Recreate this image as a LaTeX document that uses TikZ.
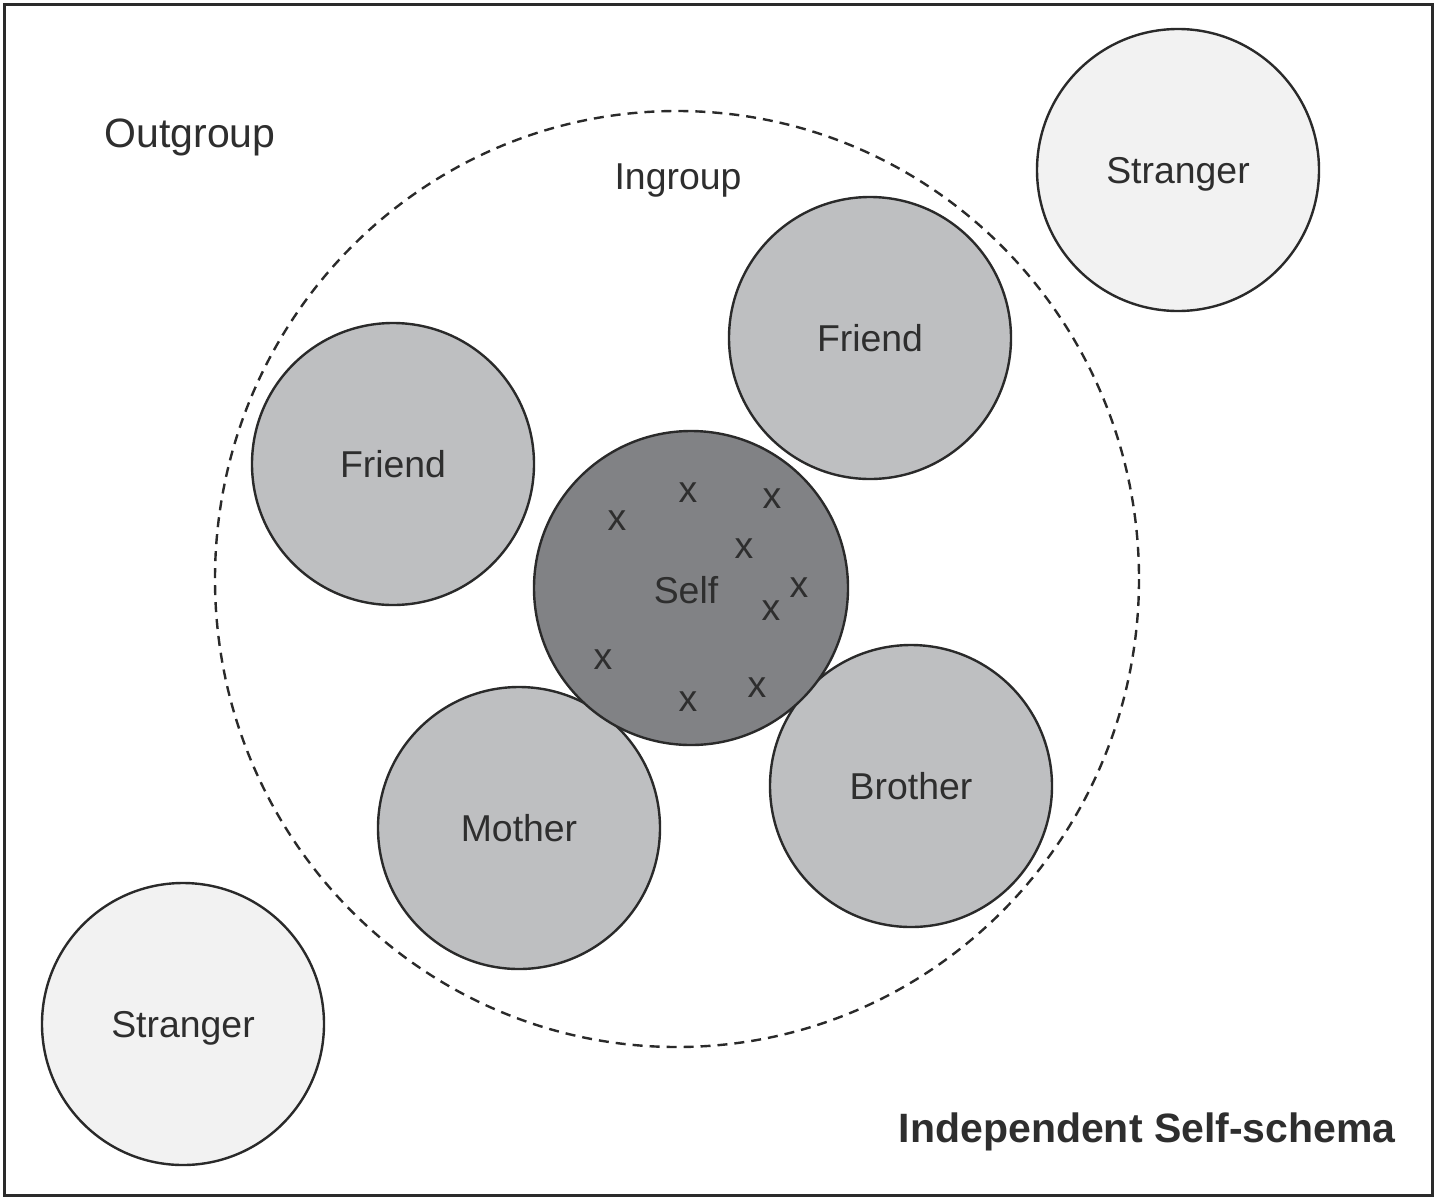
\documentclass[tikz,border=0pt]{standalone}
\usepackage{fontspec}
\setmainfont{Liberation Sans}
\begin{document}
\begin{tikzpicture}[x=0.5pt,y=-0.5pt,
  lbl/.style={text=txtc, font=\fontsize{20.5}{24}\selectfont, inner sep=0, text depth=0pt},
  slbl/.style={text=txtc, font=\fontsize{18.7}{22}\selectfont, inner sep=0, text depth=0pt},
  circ/.style={circle, draw=linec, line width=1.2pt, inner sep=0, text=txtc, text depth=0pt, font=\fontsize{18.7}{22}\selectfont},
  stranger/.style={circ, fill=strc, minimum size=141pt},
  member/.style={circ, fill=memc, minimum size=141pt},
  selfc/.style={circ, fill=selfcol, minimum size=157pt},
  xmark/.style={text=txtc, font=\fontsize{18.7}{22}\selectfont, inner sep=0}
]
\definecolor{txtc}{HTML}{2E2E2E}
\definecolor{linec}{HTML}{2A2A2A}
\definecolor{strc}{HTML}{F2F2F2}
\definecolor{memc}{HTML}{BEBFC1}
\definecolor{selfcol}{HTML}{818285}
\useasboundingbox (0,0) rectangle (1440,1200);
\draw[draw=linec, line width=1.5pt] (4,4) rectangle (1432,1195);
\draw[draw=linec, line width=1.2pt, dash pattern=on 5pt off 3.5pt] (677,579) ellipse [x radius=462, y radius=468];
\node[lbl] (outgroup) at (190,133) {Outgroup};
\node[slbl] (ingroup) at (678,177) {Ingroup};
\node[lbl, anchor=east, font=\fontsize{20.5}{24}\selectfont\bfseries] (title) at (1396,1128) {Independent Self-schema};
\node[stranger] (str1) at (1178,170) {Stranger};
\node[stranger] (str2) at (183,1024) {Stranger};
\node[member] (fr1) at (870,338) {Friend};
\node[member] (fr2) at (393,464) {Friend};
\node[member] (mother) at (519,828) {Mother};
\node[member] (brother) at (911,786) {Brother};
\node[selfc] (self) at (691,588) {};
\node[slbl] (selftext) at (686,590) {Self};
\node[xmark] (x1) at (688,493) {x};
\node[xmark] (x2) at (772,499) {x};
\node[xmark] (x3) at (617,521) {x};
\node[xmark] (x4) at (744,549) {x};
\node[xmark] (x5) at (799,588) {x};
\node[xmark] (x6) at (771,611) {x};
\node[xmark] (x7) at (603,660) {x};
\node[xmark] (x8) at (688,702) {x};
\node[xmark] (x9) at (757,688) {x};
\end{tikzpicture}
\end{document}
